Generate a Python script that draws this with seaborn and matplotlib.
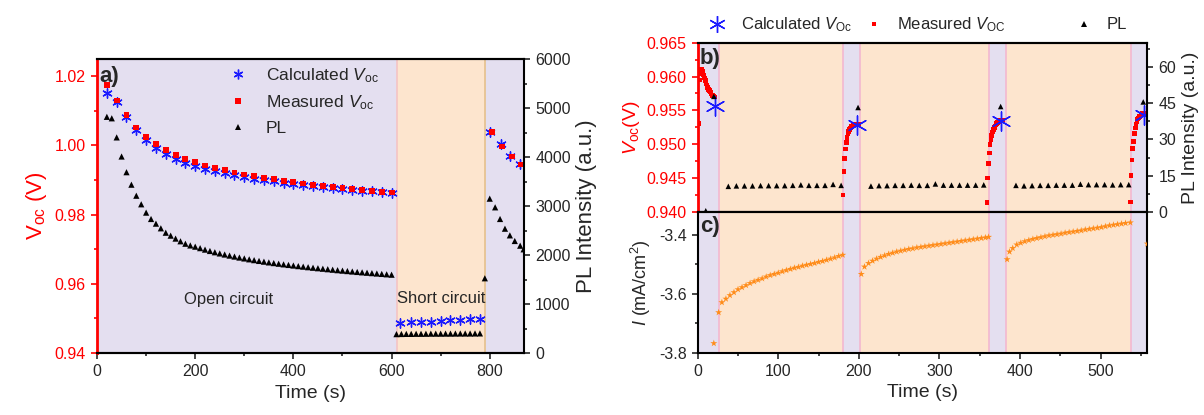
import matplotlib
matplotlib.use("Agg")
import matplotlib.pyplot as plt
import seaborn as sns
from matplotlib.ticker import MultipleLocator
from matplotlib.lines import Line2D

sns.set_theme(style="ticks")
plt.rcParams['font.family'] = ['Liberation Sans', 'DejaVu Sans']
plt.rcParams['mathtext.fontset'] = 'custom'
plt.rcParams['mathtext.rm'] = 'Liberation Sans'
plt.rcParams['mathtext.it'] = 'Liberation Sans:italic'
plt.rcParams['mathtext.bf'] = 'Liberation Sans:bold'

# ---------------- panel a data ----------------
a_calc_t = [20, 40, 60, 80, 100, 120, 140, 160, 180, 200, 220, 240, 260, 280, 300,
            320, 340, 360, 380, 400, 420, 440, 460, 480, 500, 520, 540, 560, 580, 600,
            618, 639, 659, 680, 700, 720, 740, 760, 780,
            800, 822, 842, 861]
a_calc_v = [1.0151, 1.0127, 1.0082, 1.0045, 1.0015, 0.9994, 0.9976, 0.9962, 0.9950, 0.9941,
            0.9933, 0.9926, 0.9920, 0.9914, 0.9909, 0.9904, 0.9900, 0.9896, 0.9892, 0.9888,
            0.9885, 0.9882, 0.9879, 0.9877, 0.9874, 0.9872, 0.9869, 0.9867, 0.9865, 0.9863,
            0.9487, 0.9489, 0.9490, 0.9491, 0.9493, 0.9494, 0.9496, 0.9497, 0.9499,
            1.0039, 1.0005, 0.9971, 0.9947]
a_meas_t = [20, 40, 60, 80, 100, 120, 140, 160, 180, 200, 220, 240, 260, 280, 300,
            320, 340, 360, 380, 400, 420, 440, 460, 480, 500, 520, 540, 560, 580, 600,
            804, 825, 845, 864]
a_meas_v = [1.0176, 1.0130, 1.0087, 1.0052, 1.0024, 1.0003, 0.9987, 0.9973, 0.9962, 0.9951,
            0.9942, 0.9935, 0.9928, 0.9922, 0.9916, 0.9911, 0.9906, 0.9902, 0.9898, 0.9894,
            0.9890, 0.9887, 0.9884, 0.9881, 0.9878, 0.9875, 0.9872, 0.9869, 0.9866, 0.9864,
            1.0040, 0.9997, 0.9968, 0.9945]
a_pl_t = [20, 30, 40, 50, 60, 70, 80, 90, 100, 110, 120, 130, 140, 150, 160, 170, 180, 190,
          200, 210, 220, 230, 240, 250, 260, 270, 280, 290, 300, 310, 320, 330, 340, 350,
          360, 370, 380, 390, 400, 410, 420, 430, 440, 450, 460, 470, 480, 490, 500, 510,
          520, 530, 540, 550, 560, 570, 580, 590, 600,
          610, 620, 630, 640, 650, 660, 670, 680, 690, 700, 710, 720, 730, 740, 750, 760,
          770, 780, 790,
          800, 811, 821, 831, 841, 851, 862, 869]
a_pl = [4820, 4790, 4400, 4010, 3690, 3435, 3210, 3035, 2865, 2735, 2640, 2545, 2455, 2395,
        2335, 2280, 2230, 2195, 2170, 2140, 2110, 2082, 2056, 2032, 2010, 1988, 1968, 1948,
        1930, 1912, 1895, 1879, 1864, 1849, 1835, 1822, 1809, 1797, 1785, 1773, 1762, 1751,
        1740, 1730, 1720, 1710, 1700, 1690, 1681, 1672, 1663, 1654, 1646, 1638, 1630, 1622,
        1614, 1606, 1598,
        385, 388, 390, 390, 392, 392, 393, 395, 395, 395, 396, 396, 397, 398, 398, 398,
        399, 400, 1525,
        3150, 2973, 2735, 2537, 2401, 2286, 2190, 2116]
a_regions = [0, 612, 790, 870]

# ---------------- panel b data ----------------
b_meas_t = [1.5, 2.5, 3.5, 4.5, 5.5, 6.5, 7.5, 8.5, 9.5, 10.5, 11.5, 12.5, 13.5, 14.5,
            15.5, 16.5, 17.5, 18.5, 19.5, 20.5,
            180.5, 181.5, 182.5, 183.5, 184.5, 185.5, 186.5, 187.5, 188.5, 189.5, 190.5,
            191.5, 192.5, 193.5, 194.5, 195.5, 196.5, 197.5, 198.5, 199.5,
            359, 360, 361, 362, 363, 364, 365, 366, 367, 368, 369, 370, 371, 372, 373,
            374, 375, 376, 377, 378,
            537, 538, 539, 540, 541, 542, 543, 544, 545, 546, 547, 548, 549, 550, 551,
            552, 553, 554, 555, 556]
b_meas_v = [0.9531, 0.9595, 0.9604, 0.9610, 0.9611, 0.9607, 0.9602, 0.9598, 0.9594, 0.9590,
            0.9587, 0.9584, 0.9581, 0.9579, 0.9577, 0.9575, 0.9573, 0.9572, 0.9571, 0.9570,
            0.9425, 0.9460, 0.9479, 0.9493, 0.9503, 0.9510, 0.9515, 0.9519, 0.9522, 0.9524,
            0.9526, 0.9527, 0.9528, 0.9529, 0.9529, 0.9530, 0.9530, 0.9530, 0.9530, 0.9530,
            0.9414, 0.9450, 0.9472, 0.9487, 0.9500, 0.9507, 0.9513, 0.9518, 0.9522, 0.9525,
            0.9527, 0.9529, 0.9531, 0.9532, 0.9533, 0.9534, 0.9534, 0.9535, 0.9535, 0.9535,
            0.9415, 0.9454, 0.9477, 0.9494, 0.9504, 0.9516, 0.9524, 0.9530, 0.9534, 0.9537,
            0.9539, 0.9541, 0.9542, 0.9543, 0.9544, 0.9545, 0.9545, 0.9546, 0.9546, 0.9546]
b_calc_t = [21, 198, 377, 554]
b_calc_v = [0.9557, 0.9529, 0.9534, 0.9543]
b_pl_t = [10, 20,
          38, 48, 58, 68, 78, 88, 98, 108, 118, 128, 138, 148, 158, 168, 178,
          199,
          215, 225, 235, 245, 255, 265, 275, 285, 295, 305, 315, 325, 335, 345, 355,
          376,
          395, 405, 415, 425, 435, 445, 455, 465, 475, 485, 495, 505, 515, 525, 535,
          553]
b_pl = [0.5, 47.8,
        10.6, 10.8, 10.8, 10.8, 10.9, 10.9, 10.9, 10.9, 11.0, 11.2, 11.0, 11.0, 11.0, 11.4, 11.0,
        43.2,
        10.7, 10.9, 10.9, 11.0, 11.0, 11.1, 11.0, 11.0, 11.6, 11.1, 11.1, 11.1, 11.1, 11.1, 11.2,
        43.6,
        11.0, 10.8, 10.9, 11.0, 11.0, 11.1, 11.1, 11.1, 11.5, 11.3, 11.3, 11.3, 11.2, 11.3, 11.3,
        45.5]
bc_regions = [0, 27, 180, 202, 361, 383, 538, 558]

# ---------------- panel c data ----------------
c_t = [20, 26, 30, 35, 40, 45, 50, 55, 60, 65, 70, 75, 80, 85, 90, 95, 100, 105, 110, 115,
       120, 125, 130, 135, 140, 145, 150, 155, 160, 165, 170, 175, 180,
       203, 207, 212, 217, 222, 227, 232, 237, 242, 247, 252, 257, 262, 267, 272, 277, 282,
       287, 292, 297, 302, 307, 312, 317, 322, 327, 332, 337, 342, 347, 352, 357, 361,
       384, 387, 391, 396, 401, 406, 411, 416, 421, 426, 431, 436, 441, 446, 451, 456, 461,
       466, 471, 476, 481, 486, 491, 496, 501, 506, 511, 516, 521, 526, 531, 537,
       558]
c_i = [-3.768, -3.663, -3.629, -3.617, -3.605, -3.595, -3.585, -3.578, -3.571, -3.564,
       -3.558, -3.553, -3.548, -3.542, -3.537, -3.533, -3.529, -3.524, -3.520, -3.516,
       -3.512, -3.509, -3.505, -3.502, -3.499, -3.496, -3.492, -3.489, -3.485, -3.481,
       -3.477, -3.472, -3.468,
       -3.533, -3.508, -3.496, -3.488, -3.481, -3.475, -3.470, -3.465, -3.461, -3.457,
       -3.454, -3.451, -3.448, -3.446, -3.443, -3.441, -3.439, -3.437, -3.435, -3.433,
       -3.431, -3.429, -3.427, -3.425, -3.423, -3.421, -3.419, -3.417, -3.415, -3.413,
       -3.411, -3.409, -3.407,
       -3.483, -3.457, -3.445, -3.433, -3.427, -3.422, -3.418, -3.414, -3.411, -3.408,
       -3.405, -3.402, -3.400, -3.398, -3.396, -3.393, -3.391, -3.389, -3.387, -3.385,
       -3.382, -3.380, -3.378, -3.376, -3.374, -3.371, -3.368, -3.366, -3.364, -3.362,
       -3.360, -3.358,
       -3.430]

PURPLE = '#e4dff0'
ORANGE = '#fde5ce'
PINK = '#f3b8d0'
RED = '#ff0000'
BLUE = '#1a1aff'
STAR = '#ff8c1a'
ASTER = (6, 2, 0)

fig = plt.figure(figsize=(12.04, 4.15), dpi=100)
ax_a = fig.add_axes([0.0806, 0.1494, 0.3547, 0.7084])
ax_b = fig.add_axes([0.5795, 0.4892, 0.3734, 0.408])
ax_c = fig.add_axes([0.5795, 0.150, 0.3734, 0.3392], sharex=ax_b)


def style_ticks(ax, **kw):
    ax.tick_params(which='both', direction='out', width=1.2, labelsize=11.5, **kw)
    ax.tick_params(which='major', length=4.5)
    ax.tick_params(which='minor', length=2.5)


# ---------------- panel a ----------------
span_cols = [PURPLE, ORANGE, PURPLE]
for i, col in enumerate(span_cols):
    ax_a.axvspan(a_regions[i], a_regions[i + 1], color=col, lw=0, zorder=0)
ax_a.axvline(a_regions[1], color='#f4c4c4', lw=1.2, zorder=0.5)
ax_a.axvline(a_regions[2], color='#e6c08c', lw=1.2, zorder=0.5)

sns.scatterplot(x=a_calc_t, y=a_calc_v, ax=ax_a, marker=ASTER, s=45, color=BLUE,
                linewidth=1.0, zorder=2)
sns.scatterplot(x=a_meas_t, y=a_meas_v, ax=ax_a, marker='s', s=18, color=RED,
                edgecolor='none', zorder=3)
ax_a.set_xlim(0, 870)
ax_a.set_ylim(0.94, 1.025)
ax_a.xaxis.set_major_locator(MultipleLocator(200))
ax_a.xaxis.set_minor_locator(MultipleLocator(100))
ax_a.yaxis.set_major_locator(MultipleLocator(0.02))
ax_a.yaxis.set_minor_locator(MultipleLocator(0.01))
ax_a.yaxis.set_major_formatter(matplotlib.ticker.FormatStrFormatter('%.2f'))
style_ticks(ax_a)
ax_a.tick_params(axis='y', colors=RED, which='both')
ax_a.tick_params(axis='y', labelcolor=RED)
ax_a.set_xlabel('Time (s)', fontsize=14)
ax_a.set_ylabel(r'V$_{\rm oc}$ (V)', fontsize=16, color=RED, labelpad=4)

ax_a2 = ax_a.twinx()
sns.scatterplot(x=a_pl_t, y=a_pl, ax=ax_a2, marker='^', s=20, color='black',
                edgecolor='none', zorder=3)
ax_a2.set_ylim(0, 6000)
ax_a2.yaxis.set_major_locator(MultipleLocator(1000))
ax_a2.yaxis.set_minor_locator(MultipleLocator(500))
style_ticks(ax_a2)
ax_a2.set_ylabel('PL Intensity (a.u.)', fontsize=16)
ax_a2.spines['left'].set_visible(False)

for ax in (ax_a, ax_a2):
    for sp in ax.spines.values():
        sp.set_linewidth(1.5)
        sp.set_color('black')
ax_a.spines['left'].set_color(RED)
ax_a.spines['left'].set_linewidth(2)
ax_a.spines['right'].set_visible(False)

ax_a.text(0.005, 0.975, 'a)', transform=ax_a.transAxes, fontsize=16,
          fontweight='bold', va='top', ha='left', zorder=5)
ax_a.text(267, 0.9555, 'Open circuit', fontsize=12, ha='center', va='center')
ax_a.text(611, 0.9559, 'Short circuit', fontsize=12, ha='left', va='center')

handles_a = [
    Line2D([], [], ls='none', marker=ASTER, color=BLUE, markersize=7, mew=1),
    Line2D([], [], ls='none', marker='s', color=RED, markersize=4.3, mew=0),
    Line2D([], [], ls='none', marker='^', color='black', markersize=4.5, mew=0),
]
labels_a = [r'Calculated $V_{\rm oc}$', r'Measured $V_{\rm oc}$', 'PL']
ax_a2.legend(handles_a, labels_a, loc='upper left', bbox_to_anchor=(0.293, 1.0),
             frameon=False, fontsize=12.5, handlelength=1.0, handletextpad=1.1,
             labelspacing=0.5, borderaxespad=0)

# ---------------- panels b and c ----------------
for ax in (ax_b, ax_c):
    for i in range(len(bc_regions) - 1):
        col = PURPLE if i % 2 == 0 else ORANGE
        ax.axvspan(bc_regions[i], bc_regions[i + 1], color=col, lw=0, zorder=0)
    for xb in bc_regions[1:-1]:
        ax.axvline(xb, color=PINK, lw=1.2, zorder=0.5)

sns.scatterplot(x=b_meas_t, y=b_meas_v, ax=ax_b, marker='s', s=11, color=RED,
                edgecolor='none', zorder=3)
sns.scatterplot(x=b_calc_t, y=b_calc_v, ax=ax_b, marker=ASTER, s=190, color=BLUE,
                linewidth=1.0, zorder=4)
ax_b.set_ylim(0.94, 0.965)
ax_b.yaxis.set_major_locator(MultipleLocator(0.005))
ax_b.yaxis.set_minor_locator(MultipleLocator(0.0025))
ax_b.yaxis.set_major_formatter(matplotlib.ticker.FormatStrFormatter('%.3f'))
style_ticks(ax_b)
ax_b.tick_params(axis='x', labelbottom=False)
ax_b.tick_params(axis='y', colors=RED, which='both')
ax_b.set_ylabel(r'$V_{\rm oc}$(V)', fontsize=14, color=RED, labelpad=3)
ax_b.set_xlabel('')

ax_b2 = ax_b.twinx()
sns.scatterplot(x=b_pl_t, y=b_pl, ax=ax_b2, marker='^', s=16, color='black',
                edgecolor='none', zorder=3)
ax_b2.set_ylim(0, 70)
ax_b2.yaxis.set_major_locator(MultipleLocator(15))
ax_b2.yaxis.set_minor_locator(MultipleLocator(7.5))
style_ticks(ax_b2)
ax_b2.set_ylabel('PL Intensity (a.u.)', fontsize=14)
ax_b2.spines['left'].set_visible(False)

sns.scatterplot(x=c_t, y=c_i, ax=ax_c, marker='*', s=28, color=STAR,
                edgecolor='none', zorder=3)
ax_c.set_xlim(0, 558)
ax_c.set_ylim(-3.8, -3.322)
ax_c.xaxis.set_major_locator(MultipleLocator(100))
ax_c.xaxis.set_minor_locator(MultipleLocator(50))
ax_c.yaxis.set_major_locator(MultipleLocator(0.2))
ax_c.yaxis.set_minor_locator(MultipleLocator(0.1))
ax_c.yaxis.set_major_formatter(matplotlib.ticker.FormatStrFormatter('%.1f'))
style_ticks(ax_c)
ax_c.set_xlabel('Time (s)', fontsize=14)
ax_c.set_ylabel(r'$I$ (mA/cm$^2$)', fontsize=13, labelpad=4)

for ax in (ax_b, ax_b2, ax_c):
    for sp in ax.spines.values():
        sp.set_linewidth(1.5)
        sp.set_color('black')
ax_b.spines['left'].set_color(RED)
ax_b.spines['left'].set_linewidth(2)
ax_b.spines['right'].set_visible(False)

ax_b.text(0.005, 0.97, 'b)', transform=ax_b.transAxes, fontsize=16,
          fontweight='bold', va='top', ha='left', zorder=5)
ax_c.text(0.005, 0.97, 'c)', transform=ax_c.transAxes, fontsize=16,
          fontweight='bold', va='top', ha='left', zorder=5)

# top legend for panel b, one entry per block
legend_b = [
    (Line2D([], [], ls='none', marker=ASTER, color=BLUE, markersize=12, mew=1),
     r'Calculated $V_{\rm Oc}$', 0.589),
    (Line2D([], [], ls='none', marker='s', color=RED, markersize=3.5, mew=0),
     r'Measured $V_{\rm OC}$', 0.719),
    (Line2D([], [], ls='none', marker='^', color='black', markersize=4, mew=0),
     'PL', 0.893),
]
for h, lab, xpos in legend_b:
    fig.legend([h], [lab], loc='center left', bbox_to_anchor=(xpos, 0.94),
               frameon=False, fontsize=12, handlelength=1.0, handletextpad=0.9,
               borderaxespad=0, borderpad=0)

plt.savefig('out.png', dpi=100)
plt.close()
